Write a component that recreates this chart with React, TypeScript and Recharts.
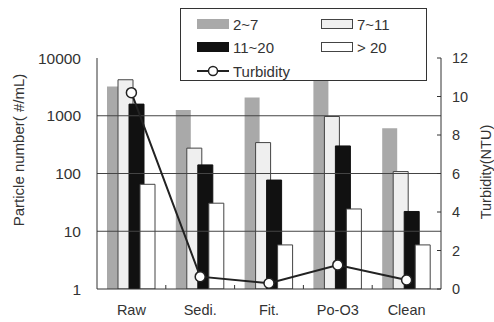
import React from "react";
import { ComposedChart, Bar, Line, XAxis, YAxis, ReferenceLine } from "recharts";

const categories = ["Raw", "Sedi.", "Fit.", "Po-O3", "Clean"];
const size2to7 = [3200, 1260, 2070, 4500, 610];
const size7to11 = [4200, 275, 343, 970, 108];
const size11to20 = [1590, 141, 77, 300, 22];
const sizeOver20 = [65, 30.6, 5.8, 24.3, 5.8];
const turbidity = [10.2, 0.64, 0.3, 1.25, 0.47];

const particleTicks = [1, 10, 100, 1000, 10000];
const particleGrid = [10, 100, 1000];
const turbidityTicks = [0, 2, 4, 6, 8, 10, 12];

const seriesNames = ["2~7", "7~11", "11~20", "> 20"];
const lineName = "Turbidity";

const INK = "#333";
const FONT = "'Liberation Sans', Arial, sans-serif";

const data = categories.map((name, i) => ({
  name,
  s1: size2to7[i],
  s2: size7to11[i],
  s3: size11to20[i],
  s4: sizeOver20[i],
  turb: turbidity[i],
}));

const barStyles = [
  { fill: "#a9a9a9", stroke: "none" },
  { fill: "#efefef", stroke: "#444" },
  { fill: "#111", stroke: "#111" },
  { fill: "#fff", stroke: "#444" },
];

const W = 494;
const H = 322;
const LEFT_W = 97;
const RIGHT_W = 53;
const TOP = 58;
const X_H = 33;
const bandHalf = (W - LEFT_W - RIGHT_W) / categories.length / 2;

function CategoryTick({ x, y, payload, index }: { x?: number; y?: number; payload?: { value: string }; index?: number }) {
  if (x == null || y == null) return null;
  const axisY = H - X_H;
  return (
    <g>
      {index !== categories.length - 1 && (
        <line x1={x + bandHalf} x2={x + bandHalf} y1={axisY} y2={axisY - 4} stroke={INK} />
      )}
      <text x={x} y={y} dy="0.71em" textAnchor="middle" fontSize={14.5} fill={INK} fontFamily={FONT}>
        {payload?.value}
      </text>
    </g>
  );
}

function TurbidityTick({ x, y, payload }: { x?: number; y?: number; payload?: { value: number } }) {
  if (x == null || y == null) return null;
  const axisX = W - RIGHT_W;
  return (
    <g>
      <line x1={axisX - 4} x2={axisX} y1={y} y2={y} stroke={INK} />
      <text x={x} y={y} dy="0.35em" textAnchor="start" fontSize={14.5} fill={INK} fontFamily={FONT}>
        {payload?.value}
      </text>
    </g>
  );
}

function LegendBox() {
  const swatch = (i: number) => (
    <span
      style={{
        display: "inline-block",
        width: 30,
        height: 8,
        background: barStyles[i].fill,
        border: `1px solid ${barStyles[i].stroke === "none" ? barStyles[i].fill : barStyles[i].stroke}`,
        marginRight: 4,
      }}
    />
  );
  const item = (i: number, left: number, top: number) => (
    <div style={{ position: "absolute", left, top, display: "flex", alignItems: "center", height: 16 }}>
      {swatch(i)}
      <span>{seriesNames[i]}</span>
    </div>
  );
  return (
    <div
      style={{
        position: "absolute",
        left: 180,
        top: 8,
        width: 247,
        height: 73,
        border: `1px solid ${INK}`,
        background: "#fff",
        fontFamily: FONT,
        fontSize: 15,
        color: INK,
        boxSizing: "border-box",
      }}
    >
      {item(0, 16, 7)}
      {item(1, 140, 7)}
      {item(2, 16, 30)}
      {item(3, 140, 30)}
      <div style={{ position: "absolute", left: 16, top: 54, display: "flex", alignItems: "center", height: 16 }}>
        <svg width={32} height={12} style={{ marginRight: 4 }}>
          <line x1={0} x2={32} y1={6} y2={6} stroke="#222" strokeWidth={2} />
          <circle cx={16} cy={6} r={4.5} fill="#fff" stroke="#222" strokeWidth={1.5} />
        </svg>
        <span>{lineName}</span>
      </div>
    </div>
  );
}

export default function App() {
  const keys = ["s1", "s2", "s3", "s4"];
  return (
    <div style={{ position: "absolute", left: 0, top: 0, width: W, height: H, background: "#fff" }}>
      <ComposedChart
        width={W}
        height={H}
        data={data}
        margin={{ top: TOP, right: 0, bottom: 0, left: 0 }}
        barSize={15}
        barGap={-4}
      >
        <XAxis
          dataKey="name"
          height={X_H}
          axisLine={{ stroke: INK }}
          tickLine={false}
          tickSize={0}
          tickMargin={16}
          tick={<CategoryTick />}
        />
        <YAxis
          yAxisId="left"
          scale="log"
          domain={[1, 10000]}
          ticks={particleTicks}
          allowDataOverflow
          width={LEFT_W}
          axisLine={{ stroke: INK }}
          tickLine={false}
          tickSize={0}
          tickMargin={16}
          tick={{ fontSize: 15.5, fill: INK, fontFamily: FONT }}
          label={{
            content: () => (
              <text
                x={18}
                y={150}
                transform="rotate(-90 18 150)"
                textAnchor="middle"
                dominantBaseline="central"
                fontSize={15}
                fill={INK}
                fontFamily={FONT}
              >
                Particle number( #/mL)
              </text>
            ),
          }}
        />
        <YAxis
          yAxisId="right"
          orientation="right"
          domain={[0, 12]}
          ticks={turbidityTicks}
          width={RIGHT_W}
          axisLine={{ stroke: INK }}
          tickLine={false}
          tickSize={0}
          tickMargin={11}
          tick={<TurbidityTick />}
          label={{
            content: () => (
              <text
                x={486}
                y={172}
                transform="rotate(-90 486 172)"
                textAnchor="middle"
                dominantBaseline="central"
                fontSize={14.5}
                fill={INK}
                fontFamily={FONT}
              >
                Turbidity(NTU)
              </text>
            ),
          }}
        />
        {particleGrid.map((v) => (
          <ReferenceLine key={v} yAxisId="left" y={v} stroke="#444" strokeWidth={1} />
        ))}
        {keys.map((k, i) => (
          <Bar
            key={k}
            yAxisId="left"
            dataKey={k}
            name={seriesNames[i]}
            fill={barStyles[i].fill}
            stroke={barStyles[i].stroke}
            strokeWidth={1}
            isAnimationActive={false}
          />
        ))}
        <Line
          yAxisId="right"
          dataKey="turb"
          name={lineName}
          stroke="#222"
          strokeWidth={2}
          dot={{ r: 5, fill: "#fff", stroke: "#222", strokeWidth: 1.5 }}
          isAnimationActive={false}
        />
      </ComposedChart>
      <LegendBox />
    </div>
  );
}
